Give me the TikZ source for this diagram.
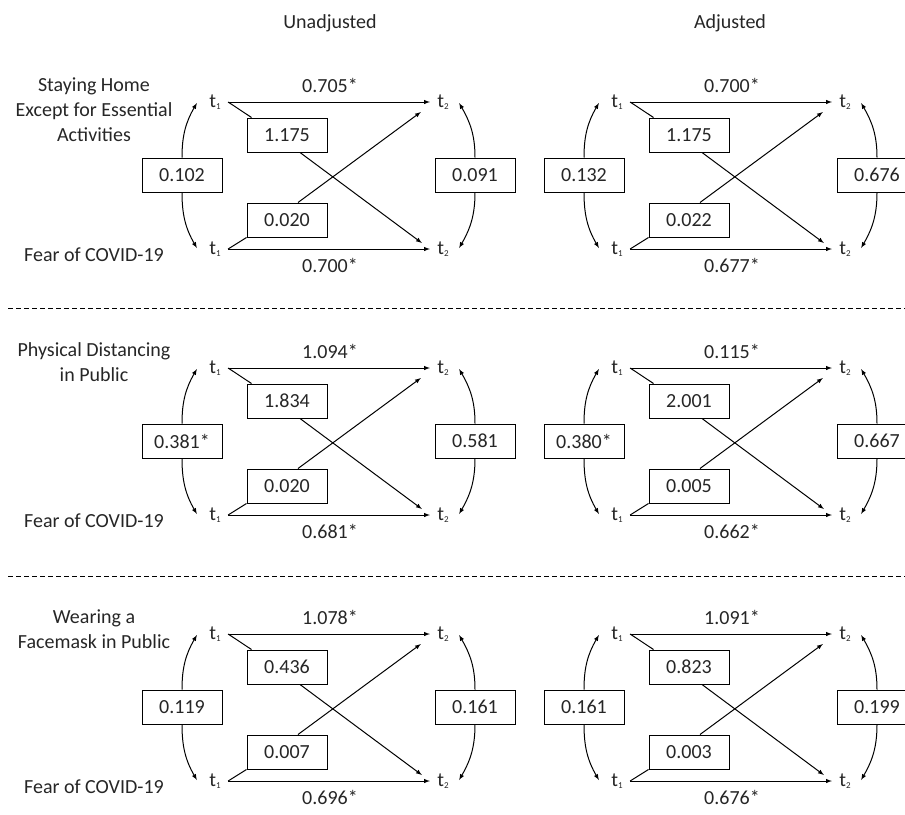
\documentclass[tikz,border=0pt]{standalone}
\usepackage{fontspec}
\setmainfont{Carlito}
\usetikzlibrary{arrows}
\tikzset{
  txt/.style = {font=\fontsize{20}{25}\selectfont, text=black!85,
    inner sep=0pt, align=center},% plain text
  valbox/.style = {txt, draw=black, fill=white, line width=1pt,
    minimum width=80pt, minimum height=34pt},% coefficient box
  tnode/.style = {txt, inner xsep=7pt, inner ysep=2pt},% time point
  arr/.style = {-latex, line width=1pt},% path arrow
  sep/.style = {line width=0.8pt, dash pattern=on 5pt off 3pt}% panel separator
}
\newcommand{\tpt}[1]{t\raisebox{-1.5pt}{\fontsize{9}{9}\selectfont #1}}

\begin{document}
\begin{tikzpicture}[x=1pt, y=1pt, line width=1pt]
	\useasboundingbox (0,0) rectangle (905,-814);
	\node [txt] (hU) at (330,-23) {Unadjusted};
	\node [txt] (hA) at (730,-23) {Adjusted};
	% behaviour names and fear
	\foreach \row/\lab/\ly in {0/{Staying Home\\Except for Essential\\Activities}/110,
		1/{Physical Distancing\\in Public}/362, 2/{Wearing a\\Facemask in Public}/629}{
		\node [txt] (beh) at (94,-\ly) {\lab};
		\node [txt] (fear) at (94,-255-266*\row) {Fear of COVID-19};
	}
	\coordinate (s1a) at (8,-308);  \coordinate (s1b) at (905,-308);
	\coordinate (s2a) at (8,-576);  \coordinate (s2b) at (905,-576);
	\draw [sep] (s1a) -- (s1b);
	\draw [sep] (s2a) -- (s2b);
	% cross-lagged panels
	\foreach \col/\row/\ctop/\cbot/\xa/\xb/\lv/\rv in {
		0/0/0.705*/0.700*/1.175/0.020/0.102/0.091,
		1/0/0.700*/0.677*/1.175/0.022/0.132/0.676,
		0/1/1.094*/0.681*/1.834/0.020/0.381*/0.581,
		1/1/0.115*/0.662*/2.001/0.005/0.380*/0.667,
		0/2/1.078*/0.696*/0.436/0.007/0.119/0.161,
		1/2/1.091*/0.676*/0.823/0.003/0.161/0.199}{
	\begin{scope}[shift={(402*\col,-266*\row)}]
		\node [tnode] (a1) at (215,-102) {\tpt{1}};
		\node [tnode] (a2) at (443,-102) {\tpt{2}};
		\node [tnode] (b1) at (215,-249) {\tpt{1}};
		\node [tnode] (b2) at (443,-249) {\tpt{2}};
		\node [txt] (la) at (330,-85) {\ctop};
		\node [txt] (lb) at (330,-265) {\cbot};
		\node [valbox] (lv) at (182,-175) {\lv};
		\node [valbox] (rv) at (475,-175) {\rv};
		\node [valbox] (xa) at (287,-135) {\xa};
		\node [valbox] (xb) at (287,-220) {\xb};
		\coordinate (ka) at ([xshift=-5,yshift=-1]a1.west);
		\coordinate (kb) at ([xshift=-5,yshift=1]b1.west);
		\coordinate (ma) at ([xshift=3,yshift=-1]a2.east);
		\coordinate (mb) at ([xshift=3,yshift=1]b2.east);
		\coordinate (ea) at ([xshift=-9,yshift=-10]a2.west);
		\coordinate (eb) at ([xshift=-8,yshift=6]b2.west);
		\draw [arr] (a1.east) -- (a2.west);
		\draw [arr] (b1.east) -- (b2.west);
		\draw [arr] (lv.north) to[out=90, in=240] (ka);
		\draw [arr] (lv.south) to[out=-90, in=120] (kb);
		\draw [arr] (rv.north) to[out=90, in=-60] (ma);
		\draw [arr] (rv.south) to[out=-90, in=60] (mb);
		\draw (a1.east) -- ([xshift=5]xa.north west);
		\draw (b1.east) -- (xb.south west);
		\draw [arr] ([xshift=13]xa.south) -- (eb);
		\draw [arr] ([xshift=11]xb.north) -- (ea);
	\end{scope}
	}
\end{tikzpicture}
\end{document}
